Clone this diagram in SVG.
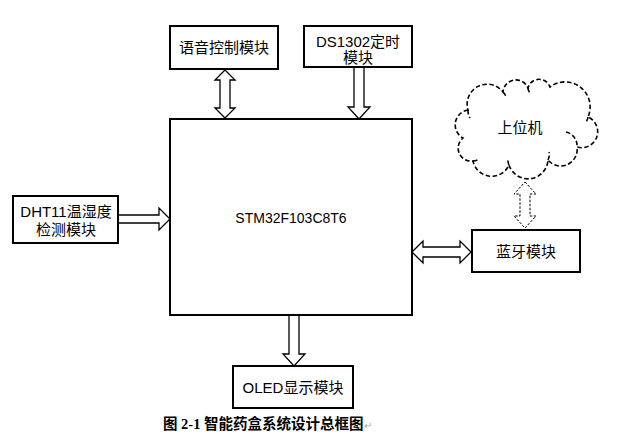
<svg xmlns="http://www.w3.org/2000/svg" width="620" height="445" viewBox="0 0 620 445">
<style>
.box{fill:#fff;stroke:#000;stroke-width:2}
.t{font-family:"Liberation Sans","Noto Sans CJK SC",sans-serif;font-size:15px;fill:#000;text-anchor:middle}
.arr{fill:#fff;stroke:#000;stroke-width:1.3;stroke-linejoin:miter}
.darr{fill:#fff;stroke:#000;stroke-width:1;stroke-dasharray:2.5 1.5}
.cloud{fill:#fff;stroke:#000;stroke-width:1.6;stroke-dasharray:4.5 2.5;fill-rule:nonzero}
.cap{font-family:"Liberation Serif","Noto Sans CJK SC",serif;font-size:14.5px;font-weight:bold;fill:#000}
</style>
<rect width="620" height="445" fill="#fff"/>
<g id="connectors">
<polygon class="arr" points="225,70 235,80 230,80 230,108 235,108 225,118 215,108 220,108 220,80 215,80"/>
<polygon class="arr" points="354,67 364,67 364,107 370,107 359,119 348,107 354,107"/>
<polygon class="arr" points="118,215 159,215 159,208 170,219 159,230 159,223 118,223"/>
<polygon class="arr" points="412,252 423,241 423,247 460,247 460,241 471,252 460,263 460,257 423,257 423,263"/>
<polygon class="arr" points="289,315 299,315 299,354 305,354 294,366 283,354 289,354"/>
<polygon class="darr" points="525,182 536,194 530,194 530,216 536,216 525,228 514,216 520,216 520,194 514,194"/>
</g>
<g id="mcu">
<rect class="box" x="170" y="119" width="242" height="196"/>
<text class="t" x="291" y="223" style="font-size:14px">STM32F103C8T6</text>
</g>
<g id="voice">
<rect class="box" x="170" y="26" width="108" height="43"/>
<text class="t" x="224" y="53">语音控制模块</text>
</g>
<g id="ds1302">
<rect class="box" x="304" y="26" width="108" height="41"/>
<text class="t" x="358" y="46.5">DS1302定时</text>
<text class="t" x="358" y="63">模块</text>
</g>
<g id="dht11">
<rect class="box" x="13" y="196" width="105" height="47"/>
<text class="t" x="66" y="217">DHT11温湿度</text>
<text class="t" x="66" y="235">检测模块</text>
</g>
<g id="bluetooth">
<rect class="box" x="472" y="230" width="108" height="42"/>
<text class="t" x="526" y="257">蓝牙模块</text>
</g>
<g id="pc">
<path class="cloud" d="M468,110 A15,15 0 0 0 463,138 A13,13 0 0 0 473,161 A19,19 0 0 0 509,165 A20,20 0 0 0 548,160 A16.5,16.5 0 0 0 577,147 A16,16 0 0 0 588,117 A25,25 0 0 0 550,87 A11.5,11.5 0 0 0 528,88 A13,13 0 0 0 503,92 A20,20 0 0 0 468,110 Z"/>
<path class="cloud" d="M566,132 A14,14 0 0 1 577,147 M468,110 A14,14 0 0 0 470,118 M503,92 A10,10 0 0 1 506,97 M528,88 A8,8 0 0 0 530,93 M473,161 A12,12 0 0 0 479,159 M509,165 A10,10 0 0 1 508,159 M548,160 A12,12 0 0 0 549,152 M588,117 A10,10 0 0 1 586,122" style="fill:none"/>
<text class="t" x="520" y="133">上位机</text>
</g>
<g id="oled">
<rect class="box" x="233" y="366" width="120" height="42"/>
<text class="t" x="293" y="393">OLED显示模块</text>
</g>
<g id="caption">
<text class="cap" x="163" y="429">图 2-1 智能药盒系统设计总框图<tspan style="font-weight:normal;fill:#aaa;font-size:10px">↵</tspan></text>
</g>
</svg>
